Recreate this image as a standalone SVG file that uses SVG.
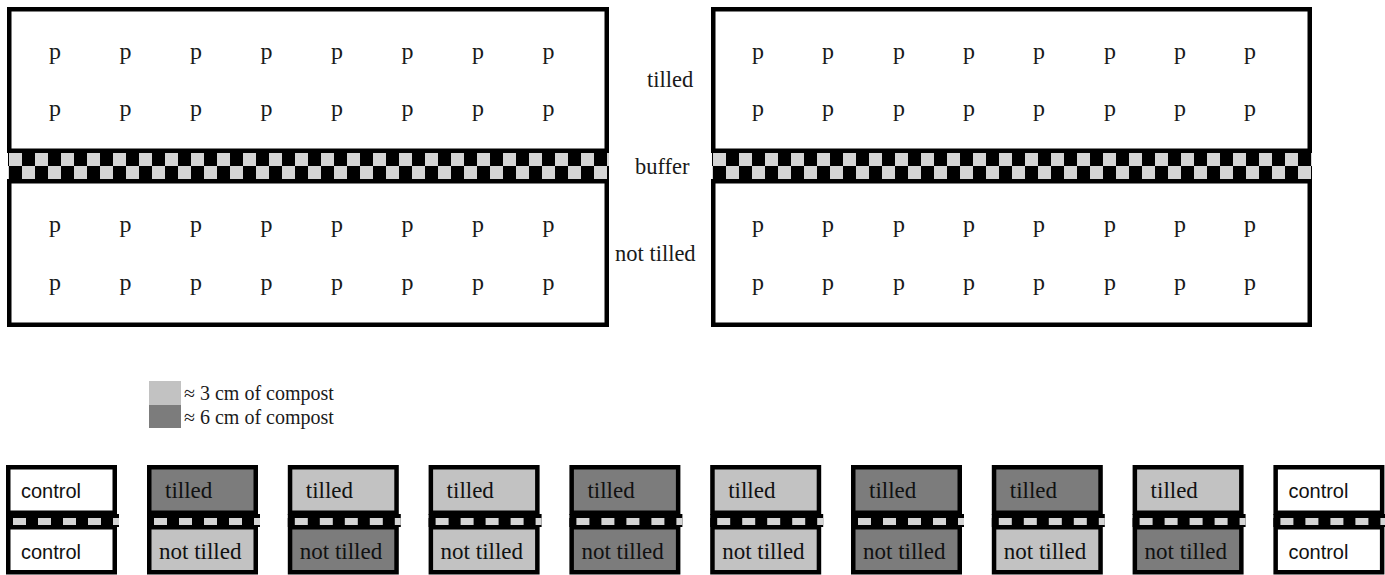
<svg xmlns="http://www.w3.org/2000/svg" width="1385" height="575" viewBox="0 0 1385 575">
<style>
.plot{fill:#fff;stroke:#000;stroke-width:4.5}
.p{font-family:"Liberation Serif",serif;font-size:24px;fill:#1a1a1a;text-anchor:middle}
.lbl{font-family:"Liberation Serif",serif;font-size:22.5px;fill:#1a1a1a}
.leg{font-family:"Liberation Serif",serif;font-size:20px;fill:#1a1a1a}
.box{stroke:#000;stroke-width:4.5}
.w{fill:#fff}.lt{fill:#c2c2c2}.dk{fill:#7c7c7c}
.sans{font-family:"Liberation Sans",sans-serif;font-size:20px;fill:#111}
.ser{font-family:"Liberation Serif",serif;font-size:23px;fill:#111}
</style>
<defs>
<pattern id="chk" patternUnits="userSpaceOnUse" x="9" y="153" width="26" height="26">
<rect width="26" height="26" fill="#000"/>
<rect x="0" y="0" width="13" height="13" fill="#d4d4d4"/>
<rect x="13" y="13" width="13" height="13" fill="#d4d4d4"/>
</pattern>
<pattern id="chk2" patternUnits="userSpaceOnUse" x="713" y="153" width="26" height="26">
<rect width="26" height="26" fill="#000"/>
<rect x="0" y="0" width="13" height="13" fill="#d4d4d4"/>
<rect x="13" y="13" width="13" height="13" fill="#d4d4d4"/>
</pattern>
<pattern id="sb" patternUnits="userSpaceOnUse" x="7" y="0" width="25" height="30">
<rect width="25" height="30" fill="#000"/>
<rect x="0" y="0" width="13" height="30" fill="#d4d4d4"/>
</pattern>
<g id="strip">
<rect x="0" y="514" width="113" height="13" fill="#000"/>
<rect x="0" y="518" width="113" height="7" fill="url(#sb)"/>
</g>
</defs>

<g id="field-left">
<rect x="8" y="153" width="601" height="26" fill="url(#chk)"/>
<rect class="plot" x="9.25" y="9.25" width="597.5" height="141.5"/>
<rect class="plot" x="9.25" y="181.25" width="597.5" height="143.5"/>
<g class="p">
<text x="55" y="59">p</text><text x="125.5" y="59">p</text><text x="196" y="59">p</text><text x="266.5" y="59">p</text><text x="337" y="59">p</text><text x="407.5" y="59">p</text><text x="478" y="59">p</text><text x="548.5" y="59">p</text>
<text x="55" y="116">p</text><text x="125.5" y="116">p</text><text x="196" y="116">p</text><text x="266.5" y="116">p</text><text x="337" y="116">p</text><text x="407.5" y="116">p</text><text x="478" y="116">p</text><text x="548.5" y="116">p</text>
<text x="55" y="232">p</text><text x="125.5" y="232">p</text><text x="196" y="232">p</text><text x="266.5" y="232">p</text><text x="337" y="232">p</text><text x="407.5" y="232">p</text><text x="478" y="232">p</text><text x="548.5" y="232">p</text>
<text x="55" y="290">p</text><text x="125.5" y="290">p</text><text x="196" y="290">p</text><text x="266.5" y="290">p</text><text x="337" y="290">p</text><text x="407.5" y="290">p</text><text x="478" y="290">p</text><text x="548.5" y="290">p</text>
</g>
</g>

<g id="field-right">
<rect x="712" y="153" width="600" height="26" fill="url(#chk2)"/>
<rect class="plot" x="713.25" y="9.25" width="596.5" height="141.5"/>
<rect class="plot" x="713.25" y="181.25" width="596.5" height="143.5"/>
<g class="p">
<text x="758" y="59">p</text><text x="828" y="59">p</text><text x="899" y="59">p</text><text x="969" y="59">p</text><text x="1039" y="59">p</text><text x="1110" y="59">p</text><text x="1180" y="59">p</text><text x="1250" y="59">p</text>
<text x="758" y="116">p</text><text x="828" y="116">p</text><text x="899" y="116">p</text><text x="969" y="116">p</text><text x="1039" y="116">p</text><text x="1110" y="116">p</text><text x="1180" y="116">p</text><text x="1250" y="116">p</text>
<text x="758" y="232">p</text><text x="828" y="232">p</text><text x="899" y="232">p</text><text x="969" y="232">p</text><text x="1039" y="232">p</text><text x="1110" y="232">p</text><text x="1180" y="232">p</text><text x="1250" y="232">p</text>
<text x="758" y="290">p</text><text x="828" y="290">p</text><text x="899" y="290">p</text><text x="969" y="290">p</text><text x="1039" y="290">p</text><text x="1110" y="290">p</text><text x="1180" y="290">p</text><text x="1250" y="290">p</text>
</g>
</g>

<g id="row-labels" class="lbl">
<text x="647" y="87">tilled</text>
<text x="635" y="174">buffer</text>
<text x="615" y="261">not tilled</text>
</g>

<g id="legend">
<rect x="149" y="381" width="32" height="24" class="lt"/>
<rect x="149" y="405" width="32" height="23" class="dk"/>
<text class="leg" x="184" y="400">≈ 3 cm of compost</text>
<text class="leg" x="184" y="424">≈ 6 cm of compost</text>
</g>

<g id="plots">
<g id="plot-1" transform="translate(6,0)">
<use href="#strip"/>
<rect class="box w" x="2.25" y="467.25" width="106.5" height="45.5"/>
<rect class="box w" x="2.25" y="527.25" width="106.5" height="45"/>
<text class="sans" x="15" y="498">control</text>
<text class="sans" x="15" y="559">control</text>
</g>
<g id="plot-2" transform="translate(147,0)">
<use href="#strip"/>
<rect class="box dk" x="2.25" y="467.25" width="106.5" height="45.5"/>
<rect class="box lt" x="2.25" y="527.25" width="106.5" height="45"/>
<text class="ser" x="18" y="498">tilled</text>
<text class="ser" x="12" y="559">not tilled</text>
</g>
<g id="plot-3" transform="translate(287.8,0)">
<use href="#strip"/>
<rect class="box lt" x="2.25" y="467.25" width="106.5" height="45.5"/>
<rect class="box dk" x="2.25" y="527.25" width="106.5" height="45"/>
<text class="ser" x="18" y="498">tilled</text>
<text class="ser" x="12" y="559">not tilled</text>
</g>
<g id="plot-4" transform="translate(428.6,0)">
<use href="#strip"/>
<rect class="box lt" x="2.25" y="467.25" width="106.5" height="45.5"/>
<rect class="box lt" x="2.25" y="527.25" width="106.5" height="45"/>
<text class="ser" x="18" y="498">tilled</text>
<text class="ser" x="12" y="559">not tilled</text>
</g>
<g id="plot-5" transform="translate(569.4,0)">
<use href="#strip"/>
<rect class="box dk" x="2.25" y="467.25" width="106.5" height="45.5"/>
<rect class="box dk" x="2.25" y="527.25" width="106.5" height="45"/>
<text class="ser" x="18" y="498">tilled</text>
<text class="ser" x="12" y="559">not tilled</text>
</g>
<g id="plot-6" transform="translate(710.2,0)">
<use href="#strip"/>
<rect class="box lt" x="2.25" y="467.25" width="106.5" height="45.5"/>
<rect class="box lt" x="2.25" y="527.25" width="106.5" height="45"/>
<text class="ser" x="18" y="498">tilled</text>
<text class="ser" x="12" y="559">not tilled</text>
</g>
<g id="plot-7" transform="translate(851,0)">
<use href="#strip"/>
<rect class="box dk" x="2.25" y="467.25" width="106.5" height="45.5"/>
<rect class="box dk" x="2.25" y="527.25" width="106.5" height="45"/>
<text class="ser" x="18" y="498">tilled</text>
<text class="ser" x="12" y="559">not tilled</text>
</g>
<g id="plot-8" transform="translate(991.8,0)">
<use href="#strip"/>
<rect class="box dk" x="2.25" y="467.25" width="106.5" height="45.5"/>
<rect class="box lt" x="2.25" y="527.25" width="106.5" height="45"/>
<text class="ser" x="18" y="498">tilled</text>
<text class="ser" x="12" y="559">not tilled</text>
</g>
<g id="plot-9" transform="translate(1132.6,0)">
<use href="#strip"/>
<rect class="box lt" x="2.25" y="467.25" width="106.5" height="45.5"/>
<rect class="box dk" x="2.25" y="527.25" width="106.5" height="45"/>
<text class="ser" x="18" y="498">tilled</text>
<text class="ser" x="12" y="559">not tilled</text>
</g>
<g id="plot-10" transform="translate(1273.4,0)">
<use href="#strip"/>
<rect class="box w" x="2.25" y="467.25" width="106.5" height="45.5"/>
<rect class="box w" x="2.25" y="527.25" width="106.5" height="45"/>
<text class="sans" x="15" y="498">control</text>
<text class="sans" x="15" y="559">control</text>
</g>
</g>
</svg>
